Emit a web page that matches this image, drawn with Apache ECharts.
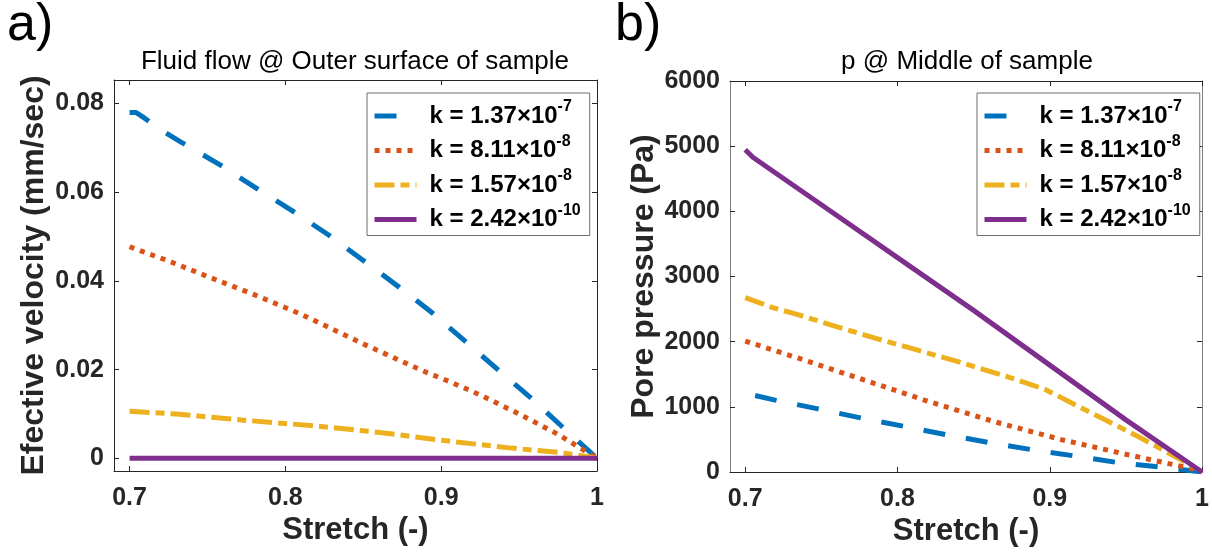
<!DOCTYPE html>
<html>
<head>
<meta charset="utf-8">
<script src="https://cdn.jsdelivr.net/npm/echarts@6/dist/echarts.min.js"></script>
<style>
  html, body { margin: 0; padding: 0; background: #ffffff; }
  #chart { width: 1212px; height: 552px; }
</style>
</head>
<body>
<div id="chart"></div>
<script>
// Permeability values shown in the legends: k = mantissa × 10^exponent
const kMantissa = ['1.37', '8.11', '1.57', '2.42'];
const kExponent = ['-7', '-8', '-8', '-10'];

// Tick positions
const stretchTicks = [0.7, 0.8, 0.9, 1.0];
const velocityTicks = [0, 0.02, 0.04, 0.06, 0.08];
const pressureTicks = [0, 1000, 2000, 3000, 4000, 5000, 6000];

// a) Effective fluid velocity at the outer surface of the sample (mm/sec)
const velStretch1 = [0.700, 0.704, 0.708, 0.720, 0.733, 0.757, 0.780, 0.804, 0.828, 0.850, 0.873, 0.895, 0.916, 0.937, 0.958, 0.979, 1.000];
const velValues1  = [0.0780, 0.0780, 0.0771, 0.0741, 0.0713, 0.0664, 0.0612, 0.0559, 0.0503, 0.0446, 0.0386, 0.0326, 0.0262, 0.0198, 0.0135, 0.0067, 0.0000];
const velStretch2 = [0.700, 0.725, 0.750, 0.780, 0.810, 0.850, 0.887, 0.906, 0.925, 0.950, 0.975, 1.000];
const velValues2  = [0.0477, 0.0445, 0.0410, 0.0369, 0.0325, 0.0258, 0.0199, 0.0172, 0.0143, 0.0100, 0.0054, 0.0000];
const velStretch3 = [0.700, 0.730, 0.773, 0.816, 0.859, 0.902, 0.945, 0.977, 1.000];
const velValues3  = [0.0106, 0.0100, 0.0086, 0.0074, 0.0059, 0.0040, 0.0023, 0.0013, 0.0000];
const velStretch4 = [0.700, 0.800, 0.900, 1.000];
const velValues4  = [0, 0, 0, 0];

// b) Pore pressure in the middle of the sample (Pa)
const presStretch1 = [0.7065, 0.7196, 0.7478, 0.7757, 0.8037, 0.8315, 0.8593, 0.8876, 0.915, 0.9435, 0.9717, 1.000];
const presValues1  = [1174, 1103, 969, 831, 703, 574, 456, 344, 251, 149, 77, 0];
const presStretch2 = [0.700, 0.734, 0.777, 0.8207, 0.864, 0.9076, 0.951, 0.9946, 1.000];
const presValues2  = [2010, 1754, 1420, 1080, 770, 497, 267, 45, 0];
const presStretch3 = [0.700, 0.718, 0.734, 0.762, 0.788, 0.8076, 0.842, 0.871, 0.897, 0.9185, 0.936, 0.958, 0.975, 0.9946, 1.000];
const presValues3  = [2677, 2523, 2420, 2215, 2036, 1908, 1677, 1472, 1267, 1010, 805, 545, 330, 80, 0];
const presStretch4 = [0.700, 0.705, 0.750, 0.800, 0.850, 0.900, 0.950, 1.000];
const presValues4  = [4945, 4830, 4100, 3290, 2480, 1640, 800, 0];

const FONT = '"Liberation Sans", Arial, Helvetica, sans-serif';
const AXIS_TEXT = '#262626';
const colors = ['#0072BD', '#D95319', '#EDB120', '#7E2F8E'];
const dashes = [[22, 21], [5, 6], [20, 6, 9, 6], 'solid'];
const names = kMantissa.map((m, i) => 'k = ' + m + '×10^' + kExponent[i]);

const zip = (xs, ys) => xs.map((x, i) => [x, ys[i]]);
const velData = [zip(velStretch1, velValues1), zip(velStretch2, velValues2), zip(velStretch3, velValues3), zip(velStretch4, velValues4)];
const presData = [zip(presStretch1, presValues1), zip(presStretch2, presValues2), zip(presStretch3, presValues3), zip(presStretch4, presValues4)];

// Layout of the two boxed axes
const panels = [
  { left: 114, width: 483, top: 80, height: 391, sideColor: '#262626' },
  { left: 730, width: 475, top: 81, height: 391, sideColor: '#7f7f7f' }
];

function xAxes(gi) {
  const line = { show: true, onZero: false, lineStyle: { color: '#262626', width: 1 } };
  const tick = { show: true, inside: true, length: 5, customValues: stretchTicks, lineStyle: { color: '#262626', width: 1 } };
  return [
    {
      gridIndex: gi, type: 'value', position: 'bottom', min: 0.69, max: 1.0,
      axisLine: line, axisTick: tick, splitLine: { show: false },
      axisLabel: {
        customValues: stretchTicks, margin: 15, fontSize: 25, fontWeight: 'bold', fontFamily: FONT, color: AXIS_TEXT,
        formatter: v => (Math.abs(v - 1) < 1e-9 ? '1' : v.toFixed(1))
      },
      name: 'Stretch (-)', nameLocation: 'middle', nameGap: 44, nameMoveOverlap: false,
      nameTextStyle: { fontSize: 31, fontWeight: 'bold', fontFamily: FONT, color: AXIS_TEXT }
    },
    {
      gridIndex: gi, type: 'value', position: 'top', min: 0.69, max: 1.0,
      axisLine: line, axisTick: tick, axisLabel: { show: false }, splitLine: { show: false }
    }
  ];
}

function yAxes(gi, p, cfg) {
  const sideLine = { show: true, onZero: false, lineStyle: { color: p.sideColor, width: 1 } };
  const tick = { show: true, inside: true, length: 5, customValues: cfg.ticks, lineStyle: { color: '#262626', width: 1 } };
  return [
    {
      gridIndex: gi, type: 'value', position: 'left', min: cfg.min, max: cfg.max,
      axisLine: sideLine, axisTick: tick, splitLine: { show: false },
      axisLabel: {
        customValues: cfg.ticks, margin: 10, fontSize: 25, fontWeight: 'bold', fontFamily: FONT, color: AXIS_TEXT,
        formatter: cfg.fmt
      },
      name: cfg.name, nameLocation: 'middle', nameGap: cfg.gap, nameMoveOverlap: false,
      nameTextStyle: { fontSize: 32, fontWeight: 'bold', fontFamily: FONT, color: AXIS_TEXT }
    },
    {
      gridIndex: gi, type: 'value', position: 'right', min: cfg.min, max: cfg.max,
      axisLine: sideLine, axisTick: tick, axisLabel: { show: false }, splitLine: { show: false }
    }
  ];
}

function makeSeries(dataSets, xi, yi) {
  return dataSets.map((d, i) => ({
    name: names[i], type: 'line', xAxisIndex: xi, yAxisIndex: yi,
    data: d, symbol: 'none', smooth: false, animation: false,
    lineStyle: { color: colors[i], width: 5, type: dashes[i], cap: 'butt', join: 'round' },
    itemStyle: { color: colors[i] }
  }));
}

function legendFor(left, top) {
  return {
    show: true, orient: 'vertical', left: left, top: top,
    data: names, itemWidth: 42, itemHeight: 12, itemGap: 5.5,
    padding: [6, 9, 4, 5],
    backgroundColor: '#ffffff', borderColor: '#6e6e6e', borderWidth: 1, borderRadius: 0,
    lineStyle: { width: 5 },
    // only the line sample, no marker in the middle of it
    itemStyle: { opacity: 0, borderWidth: 0 },
    selectedMode: false,
    formatter: name => {
      const i = names.indexOf(name);
      return '{m|k = ' + kMantissa[i] + '×10}{s|' + kExponent[i] + '}';
    },
    textStyle: {
      color: '#000000', fontFamily: FONT, fontWeight: 'bold',
      rich: {
        m: { fontSize: 24, fontWeight: 'bold', fontFamily: FONT, color: '#000', lineHeight: 34, padding: [0, 0, 0, 8] },
        s: { fontSize: 16, fontWeight: 'bold', fontFamily: FONT, color: '#000', padding: [0, 0, 18, 0] }
      }
    }
  };
}

const chart = echarts.init(document.getElementById('chart'), null, { renderer: 'canvas' });

chart.setOption({
  backgroundColor: '#ffffff',
  animation: false,
  title: [
    { text: 'a)', left: 7, top: 0, padding: 0, textStyle: { fontSize: 52, fontWeight: 'normal', fontFamily: FONT, color: '#000' } },
    { text: 'b)', left: 615, top: 0, padding: 0, textStyle: { fontSize: 52, fontWeight: 'normal', fontFamily: FONT, color: '#000' } },
    { text: 'Fluid flow @ Outer surface of sample', left: 355, textAlign: 'center', top: 47, padding: 0,
      textStyle: { fontSize: 26, fontWeight: 'normal', fontFamily: FONT, color: '#000', lineHeight: 30 } },
    { text: 'p @ Middle of sample', left: 967, textAlign: 'center', top: 47, padding: 0,
      textStyle: { fontSize: 26, fontWeight: 'normal', fontFamily: FONT, color: '#000', lineHeight: 30 } }
  ],
  grid: panels.map(p => ({ left: p.left, top: p.top, width: p.width, height: p.height, containLabel: false, show: false })),
  xAxis: [].concat(xAxes(0), xAxes(1)),
  yAxis: [].concat(
    yAxes(0, panels[0], {
      min: -0.00286, max: 0.0853, ticks: velocityTicks, name: 'Efective velocity (mm/sec)', gap: 64,
      fmt: v => (v === 0 ? '0' : v.toFixed(2))
    }),
    yAxes(1, panels[1], {
      min: 0, max: 6000, ticks: pressureTicks, name: 'Pore pressure (Pa)', gap: 70,
      fmt: v => String(Math.round(v))
    })
  ),
  legend: [legendFor(367, 93), legendFor(977, 93)],
  series: [].concat(makeSeries(velData, 0, 0), makeSeries(presData, 2, 2))
});
</script>
</body>
</html>
